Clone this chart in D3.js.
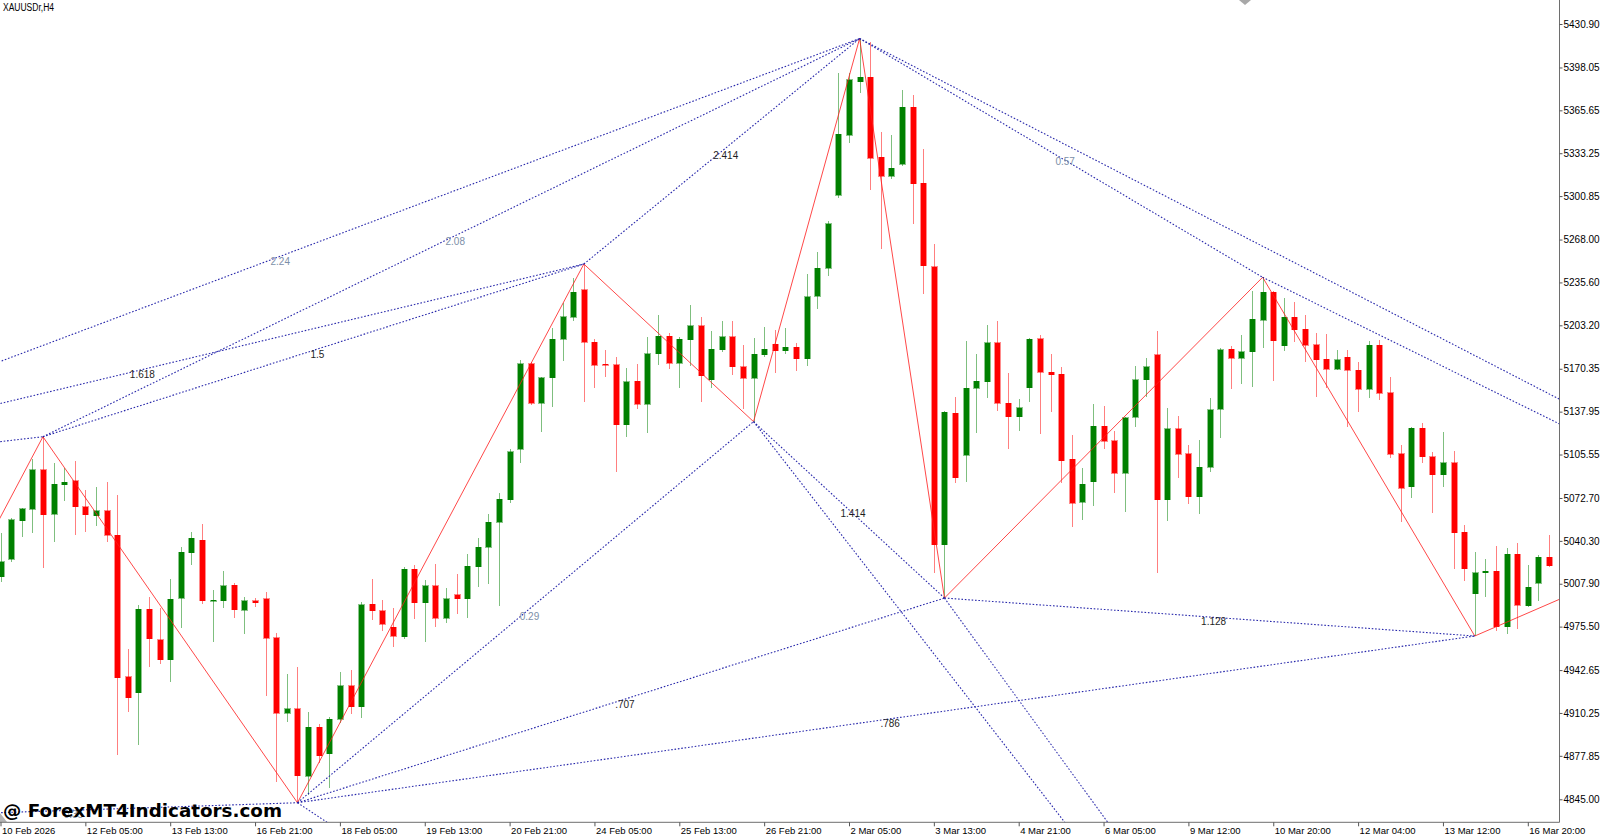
<!DOCTYPE html>
<html><head><meta charset="utf-8">
<script src="https://cdn.jsdelivr.net/npm/d3@7"></script>
<style>
html,body{margin:0;padding:0;background:#fff;overflow:hidden;}
svg{display:block;}
</style></head><body>
<svg id="c" width="1600" height="836"></svg>
<script>
// ---------- data ----------
const symbolTitle = "XAUUSDr,H4";
const watermark = "@ ForexMT4Indicators.com";

const timeTickIdx = [0,8,16,24,32,40,48,56,64,72,80,88,96,104,112,120,128,136,144];
const timeTickLabels = ["10 Feb 2026","12 Feb 05:00","13 Feb 13:00","16 Feb 21:00","18 Feb 05:00","19 Feb 13:00","20 Feb 21:00","24 Feb 05:00","25 Feb 13:00","26 Feb 21:00","2 Mar 05:00","3 Mar 13:00","4 Mar 21:00","6 Mar 05:00","9 Mar 12:00","10 Mar 20:00","12 Mar 04:00","13 Mar 12:00","16 Mar 20:00"];
const priceTickLabels = ["5430.90","5398.05","5365.65","5333.25","5300.85","5268.00","5235.60","5203.20","5170.35","5137.95","5105.55","5072.70","5040.30","5007.90","4975.50","4942.65","4910.25","4877.85","4845.00"];

const open = [
5013.2,5026.4,5055.6,5064.2,5093.9,5060.4,5082.8,5085.8,5066.1,5059.3,
5062.9,5044.7,4937.7,4925.6,4988.6,4965.6,4950.3,4996.9,5031.4,5040.7,
4994.9,4994.9,5006.7,4987.8,4995.1,4996.4,4967.1,4910.2,4913.3,4862.6,
4899.4,4879.3,4905.5,4930.9,4915.0,4992.4,4987.5,4975.0,4967.9,5018.8,
4993.6,5006.2,4981.8,4999.4,4996.4,5020.8,5035.4,5054.5,5071.2,5109.5,
5174.0,5144.3,5163.6,5192.6,5209.3,5229.9,5190.4,5173.7,5173.4,5127.9,
5160.9,5143.5,5181.8,5195.1,5174.7,5192.3,5202.7,5161.9,5184.6,5194.6,
5171.9,5163.2,5180.8,5188.8,5183.9,5186.7,5177.8,5225.2,5246.5,5301.5,
5347.0,5387.3,5390.7,5330.1,5315.8,5324.9,5367.8,5310.6,5247.3,5037.3,
5136.7,5105.0,5155.8,5160.4,5190.1,5144.3,5134.1,5156.1,5192.9,5167.9,
5166.2,5102.0,5069.5,5085.0,5127.1,5116.0,5091.4,5133.7,5161.9,5180.8,
5071.2,5124.9,5106.0,5073.7,5095.9,5139.7,5185.1,5178.3,5183.3,5207.2,
5228.2,5187.8,5209.3,5200.2,5188.6,5177.7,5170.0,5179.0,5169.4,5154.9,
5188.3,5152.3,5106.0,5081.2,5125.4,5103.9,5090.1,5099.4,5046.8,5000.2,
5016.3,5017.5,4975.4,5030.2,4991.1,5008.2,5027.9];
const high = [
5046.0,5057.4,5064.9,5102.0,5119.0,5099.4,5095.2,5100.9,5078.8,5081.2,
5084.6,5075.0,4958.6,4991.8,4997.7,4989.4,5011.3,5035.9,5046.8,5052.8,
5003.2,5017.5,5008.7,4998.1,4996.9,5001.3,4970.5,4939.7,4944.8,4910.8,
4901.7,4907.4,4941.0,4942.7,4994.3,5011.3,4995.6,4989.4,5020.3,5022.1,
5010.7,5022.8,5004.5,5015.0,5030.4,5042.5,5060.4,5076.6,5109.7,5177.0,
5175.7,5164.4,5201.0,5219.8,5238.7,5249.5,5192.6,5184.6,5179.0,5170.7,
5173.7,5194.6,5211.0,5197.6,5194.1,5218.6,5209.3,5199.1,5206.5,5206.5,
5188.3,5193.6,5201.7,5200.0,5201.3,5190.1,5241.6,5258.5,5282.0,5393.9,
5393.9,5419.9,5417.3,5349.6,5347.0,5380.8,5377.0,5336.6,5265.0,5138.8,
5149.0,5191.6,5181.5,5203.4,5206.7,5167.4,5147.3,5193.4,5195.9,5181.3,
5171.9,5120.3,5095.6,5143.7,5142.2,5123.3,5134.1,5172.5,5178.3,5198.9,
5140.9,5134.7,5112.5,5116.5,5148.5,5186.3,5187.6,5195.9,5229.4,5239.5,
5229.4,5223.6,5221.1,5211.0,5197.6,5196.6,5184.6,5184.6,5175.7,5191.4,
5192.1,5163.9,5112.8,5126.6,5129.2,5107.7,5122.4,5108.2,5052.3,5031.7,
5026.6,5036.4,5034.7,5038.9,5022.1,5029.6,5044.7];
const low = [
5009.0,5024.6,5043.5,5046.0,5019.6,5039.2,5070.4,5044.7,5047.2,5051.8,
5039.5,4878.5,4911.2,4886.0,4944.8,4947.3,4933.9,4974.2,5022.1,4992.4,
4964.1,4989.4,4981.8,4969.7,4990.1,4923.1,4857.9,4903.7,4842.4,4848.3,
4872.7,4853.8,4902.9,4909.3,4906.2,4980.5,4972.4,4960.3,4966.4,4981.3,
4964.1,4975.0,4978.5,4985.0,4981.8,5005.2,5007.5,4991.1,5069.0,5098.9,
5143.0,5122.8,5141.7,5176.5,5206.7,5145.5,5156.1,5163.9,5092.6,5118.6,
5139.7,5121.6,5173.2,5170.4,5155.6,5172.5,5145.5,5155.6,5183.3,5165.7,
5139.7,5130.4,5179.5,5167.5,5181.2,5168.8,5172.7,5215.6,5240.3,5299.4,
5341.3,5379.0,5305.4,5261.1,5313.9,5323.6,5279.8,5226.5,5016.0,4997.1,
5084.0,5084.6,5121.6,5148.1,5138.7,5109.7,5123.6,5145.0,5121.1,5137.5,
5084.3,5051.0,5056.1,5066.9,5109.5,5076.3,5062.4,5126.1,5149.3,5016.0,
5055.6,5087.6,5067.9,5060.6,5092.6,5117.8,5154.9,5158.9,5156.8,5185.8,
5161.4,5183.8,5190.8,5175.7,5149.3,5155.6,5169.4,5126.1,5137.9,5148.1,
5146.8,5102.7,5054.8,5072.5,5098.9,5061.1,5080.8,5018.8,5010.0,4968.4,
4998.1,4972.4,4969.9,4973.7,4990.1,4994.9,5020.3];
const close = [
5024.6,5056.1,5064.4,5093.9,5060.1,5083.1,5084.6,5066.1,5060.1,5062.9,
5044.5,4936.7,4921.8,4988.6,4966.2,4950.3,4996.2,5031.7,5042.3,4994.9,
4995.4,5006.2,4988.3,4995.1,4993.6,4966.7,4910.0,4913.3,4862.9,4899.4,
4878.0,4905.5,4930.9,4914.8,4992.1,4987.3,4977.3,4968.4,5018.8,4993.6,
5006.2,4981.8,4996.4,4996.4,5021.3,5035.4,5054.2,5071.7,5107.7,5174.0,
5144.3,5163.6,5192.6,5209.7,5228.2,5190.4,5173.2,5173.0,5127.9,5160.4,
5143.5,5181.8,5195.1,5174.7,5192.6,5202.7,5164.9,5185.1,5194.6,5171.9,
5163.2,5181.5,5185.1,5183.9,5186.7,5177.8,5224.7,5246.4,5279.8,5347.6,
5388.6,5390.7,5329.6,5315.8,5321.8,5367.8,5310.1,5248.1,5037.3,5137.5,
5088.0,5155.6,5161.1,5190.1,5144.3,5134.1,5140.9,5192.6,5167.9,5165.7,
5100.9,5068.7,5083.1,5127.1,5115.6,5091.4,5133.2,5161.9,5171.9,5071.2,
5124.9,5105.7,5073.7,5095.9,5139.2,5184.6,5178.3,5183.3,5207.8,5228.2,
5191.6,5209.3,5199.7,5188.3,5177.0,5170.0,5177.0,5169.4,5154.9,5188.3,
5151.8,5105.7,5080.0,5125.4,5103.9,5090.1,5099.4,5046.5,5019.1,5016.3,
5017.5,4975.4,5030.2,4991.8,5005.2,5027.9,5021.5];

// zigzag pivots (bar index, price)
const pivotName  = ["Q","R","P1","P2","P3","P4","P5","P6","P7","P8","END"];
const pivotIdx   = [-29,-15,4,28,55,71,81,89,119,139,147];
const pivotPrice = [5088.6,4830.9,5119.0,4842.4,5249.5,5130.4,5419.9,4997.1,5239.5,4968.4,4996.2];

// ratio lines between pivots
const fibFrom  = ["Q","Q","Q","P1","P1","P3","P5","R","P2","P2","P2","P4","P6"];
const fibTo    = ["P1","P3","P5","P3","P5","P5","P7","P2","P4","P6","P8","P6","P8"];
const fibLabel = ["","1.618","2.24","1.5","2.08","2.414","0.57","0.35","0.29",".707",".786","1.414","1.128"];
const fibMuted = [false,false,true,false,true,false,true,true,true,false,false,false,false];

// projection rays
const rayFrom     = ["P5","P7","P4","P6","P2"];
const rayEndIdx   = [147,147,104,108,34];
const rayEndPrice = [5147.3,5128.6,4789.9,4787.9,4810.6];

// ---------- drawing ----------
const svg = d3.select("#c");
const plotR = 1559, plotB = 822.3;
const x = d3.scaleLinear().domain([0,144]).range([0.5,1527.8]);
const y = d3.scaleLinear().domain([4845.00,5430.90]).range([799.3,24]);

svg.append("rect").attr("width",1600).attr("height",836).attr("fill","#fff");
const defs = svg.append("defs");
defs.append("clipPath").attr("id","plot").append("rect")
  .attr("x",0).attr("y",0).attr("width",plotR).attr("height",plotB);

const g = svg.append("g").attr("clip-path","url(#plot)");

const UP = "#008000", DN = "#ff0000";
const bars = d3.range(open.length).map(i => ({i, o:open[i], h:high[i], l:low[i], c:close[i]}));

const cg = g.append("g").attr("shape-rendering","crispEdges");
bars.forEach(b => {
  const cx = Math.round(x(b.i));
  const col = b.c >= b.o ? UP : DN;
  cg.append("line").attr("x1",cx+0.5).attr("x2",cx+0.5)
    .attr("y1",y(b.h)).attr("y2",y(b.l))
    .attr("stroke",col).attr("stroke-opacity",0.5).attr("stroke-width",1);
  const top = y(Math.max(b.o,b.c)), bot = y(Math.min(b.o,b.c));
  const hgt = Math.max(1, bot-top);
  cg.append("rect").attr("x",cx-3).attr("width",7)
    .attr("y",top-0.5).attr("height",hgt+1)
    .attr("fill",col).attr("fill-opacity",0.45);
  cg.append("rect").attr("x",cx-2).attr("width",5)
    .attr("y",top).attr("height",hgt)
    .attr("fill",col);
});

const P = {};
pivotName.forEach((n,k)=>{ P[n] = {x:x(pivotIdx[k]), y:y(pivotPrice[k])}; });

// zigzag
g.append("path")
  .attr("d", d3.line()(pivotName.map(n=>[P[n].x,P[n].y])))
  .attr("fill","none").attr("stroke","#ff1a1a").attr("stroke-opacity",0.8).attr("stroke-width",1);

// dotted ratio lines
const dotStyle = sel => sel.attr("stroke","#1c1ca6").attr("stroke-width",1.1)
  .attr("stroke-dasharray","1.6 1.8").attr("stroke-opacity",0.95).attr("fill","none");
fibFrom.forEach((f,k)=>{
  const a = P[f], b = P[fibTo[k]];
  g.append("line").attr("x1",a.x).attr("y1",a.y).attr("x2",b.x).attr("y2",b.y).call(dotStyle);
});
rayFrom.forEach((f,k)=>{
  const a = P[f];
  g.append("line").attr("x1",a.x).attr("y1",a.y)
    .attr("x2",x(rayEndIdx[k])).attr("y2",y(rayEndPrice[k])).call(dotStyle);
});
// labels
fibFrom.forEach((f,k)=>{
  if(!fibLabel[k]) return;
  const a = P[f], b = P[fibTo[k]];
  g.append("text").attr("x",(a.x+b.x)/2+4).attr("y",(a.y+b.y)/2+7.5)
    .attr("text-anchor","middle")
    .attr("font-family","'Liberation Sans', Arial, sans-serif").attr("font-size",10)
    .attr("fill", fibMuted[k] ? "#7d8fa8" : "#1e1e1e")
    .text(fibLabel[k]);
});

// markers
svg.append("polygon").attr("points","1239,0 1251,0 1245,5").attr("fill","#a8a8a8");
svg.append("polygon").attr("points","0,813 7,822 0,822").attr("fill","#b4b4b4");

// title
svg.append("text").attr("x",3).attr("y",10.7)
  .attr("font-family","'Liberation Sans', Arial, sans-serif").attr("font-size",10)
  .attr("textLength",51).attr("lengthAdjust","spacingAndGlyphs")
  .attr("fill","#000").text(symbolTitle);

// watermark
svg.append("text").attr("x",3).attr("y",817)
  .attr("font-family","'DejaVu Sans', sans-serif").attr("font-weight","bold").attr("font-size",18)
  .attr("textLength",279).attr("lengthAdjust","spacingAndGlyphs")
  .attr("fill","#000").text(watermark);

// axes frame
svg.append("line").attr("x1",plotR+0.5).attr("x2",plotR+0.5).attr("y1",0).attr("y2",plotB)
  .attr("stroke","#6e6e6e").attr("stroke-width",1);
svg.append("line").attr("x1",0).attr("x2",plotR+0.5).attr("y1",plotB).attr("y2",plotB)
  .attr("stroke","#6e6e6e").attr("stroke-width",1);

// price axis
const yAxis = d3.axisRight(y)
  .tickValues(priceTickLabels.map(Number))
  .tickFormat((d,i)=>priceTickLabels[i])
  .tickSize(3).tickPadding(1);
const ya = svg.append("g").attr("transform",`translate(${plotR+0.5},0)`).call(yAxis);
ya.select(".domain").remove();
ya.selectAll("line").attr("stroke","#555");
ya.selectAll("text").attr("font-family","'Liberation Sans', Arial, sans-serif")
  .attr("font-size",10).attr("fill","#000");

// time axis
const xAxis = d3.axisBottom(x)
  .tickValues(timeTickIdx)
  .tickFormat((d,i)=>timeTickLabels[i])
  .tickSize(4).tickPadding(1);
const xa = svg.append("g").attr("transform",`translate(0,${plotB})`).call(xAxis);
xa.select(".domain").remove();
xa.selectAll("line").attr("stroke","#555");
xa.selectAll("text").attr("text-anchor","start").attr("dx",1)
  .attr("font-family","'Liberation Sans', Arial, sans-serif")
  .attr("font-size",9.5).attr("fill","#000");
</script>
</body></html>
